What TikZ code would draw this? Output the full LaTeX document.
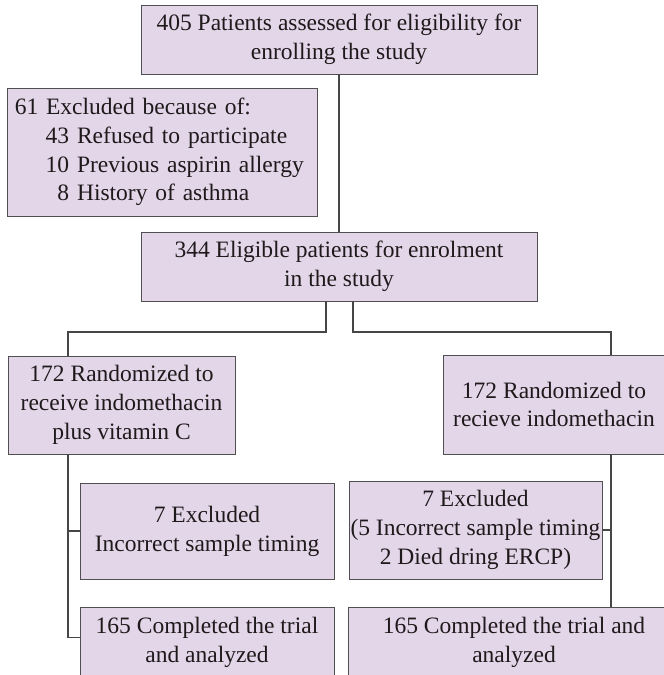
\documentclass[tikz,border=0pt]{standalone}
\usepackage{fontspec}
\setmainfont{Liberation Serif}
\definecolor{boxfill}{RGB}{228,214,233}
\definecolor{boxline}{RGB}{80,80,80}
\definecolor{connline}{RGB}{70,70,70}
\definecolor{txt}{RGB}{30,26,27}
\begin{document}
\begin{tikzpicture}[x=1pt,y=-1pt,
  box/.style={draw=boxline, fill=boxfill, line width=0.9pt, inner sep=0pt,
    align=center, font=\fontsize{23.5}{28.8}\selectfont, text=txt},
  conn/.style={draw=connline, line width=1.3pt}]
\useasboundingbox (0,0) rectangle (664,675);
\clip (0,0) rectangle (664,675);
\node[box, minimum width=396pt, minimum height=69pt] (top) at (339,39.5)
  {405 Patients assessed for eligibility for\\enrolling the study};
\node[box, minimum width=309.5pt, minimum height=128pt, text width=295pt, align=left] (excl) at (162.25,152)
  {61 Excluded because of:\\
   \hspace*{31pt}43 Refused to participate\\
   \hspace*{31pt}10 Previous aspirin allergy\\
   \hspace*{31pt}\phantom{1}8 History of asthma};
\node[box, minimum width=396pt, minimum height=69pt] (el) at (339,266.5)
  {344 Eligible patients for enrolment\\in the study};
\node[box, minimum width=227pt, minimum height=98pt] (rl) at (121.5,405)
  {172 Randomized to\\receive indomethacin\\plus vitamin C};
\node[box, minimum width=222pt, minimum height=99pt] (rr) at (554,404.5)
  {172 Randomized to\\recieve indomethacin};
\node[box, minimum width=254pt, minimum height=96pt] (le) at (207,531)
  {7 Excluded\\Incorrect sample timing};
\node[box, minimum width=253pt, minimum height=98pt] (re) at (475.5,530)
  {7 Excluded\\(5 Incorrect sample timing\\2 Died dring ERCP)};
\node[box, minimum width=254pt, minimum height=71pt] (lc) at (207,642.5)
  {165 Completed the trial\\and analyzed};
\node[box, minimum width=332pt, minimum height=71pt] (rc) at (514,642.5)
  {165 Completed the trial and\\analyzed};
\coordinate (xa) at (326,0);
\coordinate (xb) at (353,0);
\coordinate (ym) at (0,332);
\coordinate (xl) at (68,0);
\coordinate (xr) at (611,0);
\draw[conn] (top.south) -- (el.north);
\draw[conn] (el.south -| xa) -- (xa |- ym) -| (rl.north -| xl);
\draw[conn] (el.south -| xb) -- (xb |- ym) -| (rr.north -| xr);
\draw[conn] (rl.south -| xl) |- ([yshift=-31pt]lc.north west);
\draw[conn] (xl |- le.west) -- (le.west);
\draw[conn] (rr.south -| xr) -- (rc.north -| xr);
\draw[conn] (re.east) -- (re.east -| xr);
\end{tikzpicture}
\end{document}
